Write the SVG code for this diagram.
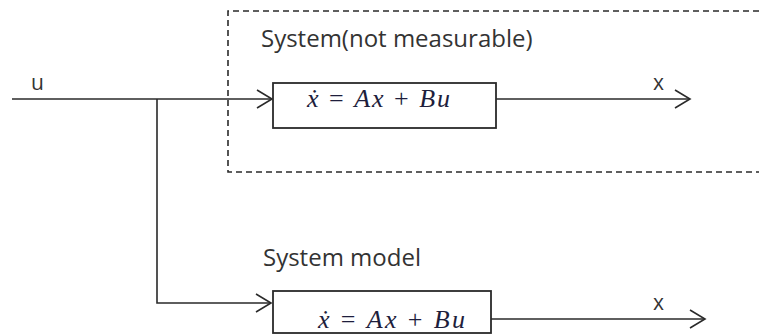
<svg xmlns="http://www.w3.org/2000/svg" width="759" height="335" viewBox="0 0 759 335">
<style>
.ln{fill:none;stroke:#2a2a2a;stroke-width:1.6}
.box{fill:#fff;stroke:#2a2a2a;stroke-width:1.8}
.dash{fill:none;stroke:#2a2a2a;stroke-width:1.6;stroke-dasharray:6 4}
.lbl{font-family:"Open Sans","Liberation Sans",sans-serif;fill:#333}
.eq{font-family:"Liberation Serif","DejaVu Serif",serif;font-size:26px;fill:#1e1e3c}
.it{font-style:italic}
</style>
<defs>
<marker id="arr" markerWidth="18" markerHeight="20" refX="16" refY="10" orient="auto" markerUnits="userSpaceOnUse">
<path d="M1,1 L16,10 L1,19" fill="none" stroke="#2a2a2a" stroke-width="1.6"/>
</marker>
</defs>
<rect width="759" height="335" fill="#fff"/>
<g id="system">
<path class="dash" d="M759,11 H228 V172 H759"/>
<text class="lbl" x="261" y="47" font-size="24">System(not measurable)</text>
</g>
<g id="connectors">
<path class="ln" d="M12,99 H272" marker-end="url(#arr)"/>
<path class="ln" d="M157,99 V303 H271" marker-end="url(#arr)"/>
<path class="ln" d="M496,99 H690" marker-end="url(#arr)"/>
<path class="ln" d="M491,319 H705" marker-end="url(#arr)"/>
</g>
<g id="block-system">
<rect class="box" x="273" y="83" width="223" height="45"/>
<text class="eq" x="307" y="107" textLength="143" lengthAdjust="spacing"><tspan class="it">ẋ</tspan> = <tspan class="it">Ax</tspan> + <tspan class="it">Bu</tspan></text>
</g>
<g id="block-model">
<rect class="box" x="273" y="291" width="218" height="42"/>
<text class="lbl" x="263" y="266" font-size="24">System model</text>
<text class="eq" x="318" y="328" textLength="147" lengthAdjust="spacing"><tspan class="it">ẋ</tspan> = <tspan class="it">Ax</tspan> + <tspan class="it">Bu</tspan></text>
</g>
<g id="labels">
<text class="lbl" x="31" y="90" font-size="21">u</text>
<text class="lbl" x="653" y="90" font-size="21">x</text>
<text class="lbl" x="653" y="310" font-size="21">x</text>
</g>
</svg>
